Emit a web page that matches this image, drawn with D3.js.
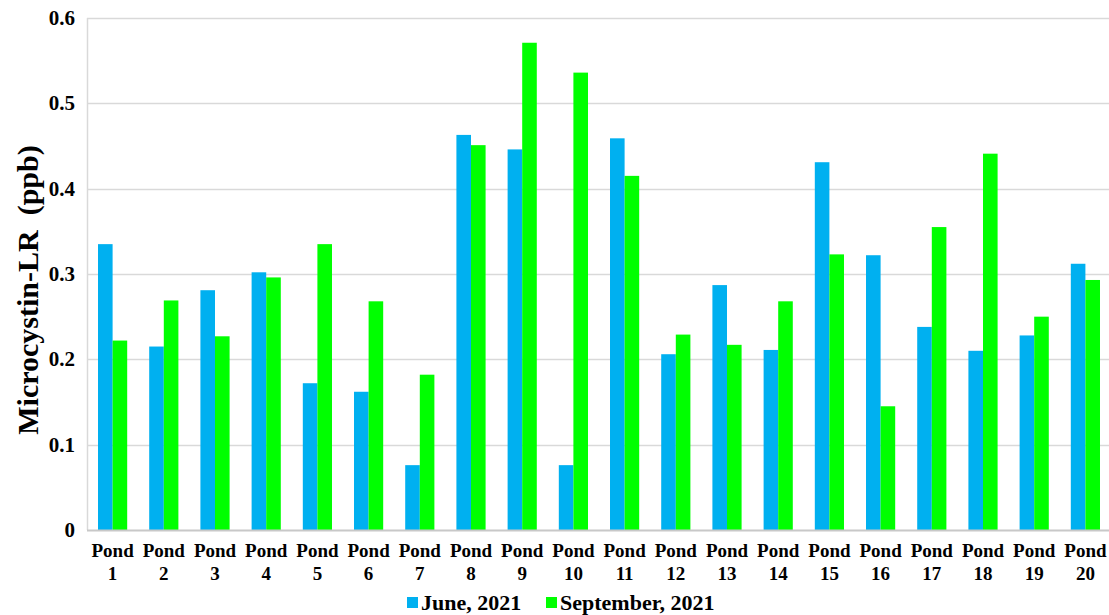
<!DOCTYPE html>
<html>
<head>
<meta charset="utf-8">
<script src="https://cdn.jsdelivr.net/npm/d3@7"></script>
<style>
  body { margin: 0; background: #fff; }
  text { font-family: "Liberation Serif", "Times New Roman", serif; font-weight: bold; fill: #000; }
</style>
</head>
<body>
<script>
// data
var ponds = ["1","2","3","4","5","6","7","8","9","10","11","12","13","14","15","16","17","18","19","20"];
var june = [0.335,0.215,0.281,0.302,0.172,0.162,0.076,0.463,0.446,0.076,0.459,0.206,0.287,0.211,0.431,0.322,0.238,0.210,0.228,0.312];
var september = [0.222,0.269,0.227,0.296,0.335,0.268,0.182,0.451,0.571,0.536,0.415,0.229,0.217,0.268,0.323,0.145,0.355,0.441,0.250,0.293];
var seriesNames = ["June, 2021", "September, 2021"];
var seriesColours = ["#00B0F0", "#00FF00"];
var yTicks = [0, 0.1, 0.2, 0.3, 0.4, 0.5, 0.6];

var width = 1109, height = 615;
var margin = {top: 18, left: 87, bottom: 85};

var svg = d3.select("body").append("svg")
	.attr("width", width)
	.attr("height", height);

var x0 = d3.scaleBand()
	.domain(ponds)
	.range([margin.left, margin.left + 1024])
	.paddingInner(0.43)
	.paddingOuter(0.215);

var x1 = d3.scaleBand()
	.domain(seriesNames)
	.range([0, x0.bandwidth()]);

var y = d3.scaleLinear()
	.domain([0, 0.6])
	.range([height - margin.bottom, margin.top]);

// gridlines
svg.append("g")
	.selectAll("line")
	.data(yTicks.slice(1))
	.enter().append("line")
	.attr("x1", margin.left)
	.attr("x2", width)
	.attr("y1", function(d) { return Math.round(y(d)) + 0.5; })
	.attr("y2", function(d) { return Math.round(y(d)) + 0.5; })
	.attr("stroke", "#d9d9d9")
	.attr("stroke-width", 1.5);

// left axis line
svg.append("line")
	.attr("x1", margin.left + 0.5).attr("x2", margin.left + 0.5)
	.attr("y1", y(0.6)).attr("y2", y(0))
	.attr("stroke", "#d9d9d9")
	.attr("stroke-width", 1.5);

// bars
var rows = ponds.map(function(p, i) {
	return {pond: p, vals: [june[i], september[i]]};
});

var groups = svg.append("g")
	.selectAll("g")
	.data(rows)
	.enter().append("g")
	.attr("transform", function(d) { return "translate(" + x0(d.pond) + ",0)"; });

groups.selectAll("rect")
	.data(function(d) { return d.vals.map(function(v, k) { return {name: seriesNames[k], value: v, k: k}; }); })
	.enter().append("rect")
	.attr("x", function(d) { return x1(d.name); })
	.attr("width", x1.bandwidth())
	.attr("y", function(d) { return y(d.value); })
	.attr("height", function(d) { return y(0) - y(d.value); })
	.attr("fill", function(d) { return seriesColours[d.k]; });

// bottom axis line
svg.append("line")
	.attr("x1", margin.left).attr("x2", width)
	.attr("y1", y(0) + 0.5).attr("y2", y(0) + 0.5)
	.attr("stroke", "#c8c8c8")
	.attr("stroke-width", 2);

// y tick labels
svg.append("g")
	.selectAll("text")
	.data(yTicks)
	.enter().append("text")
	.attr("x", 75)
	.attr("y", function(d) { return y(d) + 7; })
	.attr("text-anchor", "end")
	.style("font-size", "21px")
	.text(function(d) { return d === 0 ? "0" : d.toFixed(1); });

// x labels, two lines
var xl = svg.append("g")
	.selectAll("text")
	.data(ponds)
	.enter().append("text")
	.attr("text-anchor", "middle")
	.style("font-size", "19px")
	.attr("transform", function(d) { return "translate(" + (x0(d) + x0.bandwidth() / 2) + ",0)"; });
xl.append("tspan").attr("x", 0).attr("y", 557).text("Pond");
xl.append("tspan").attr("x", 0).attr("y", 580).text(function(d) { return d; });

// y axis title
svg.append("text")
	.attr("transform", "translate(38," + 290 + ") rotate(-90)")
	.attr("text-anchor", "middle")
	.style("font-size", "30px")
	.style("white-space", "pre")
	.attr("xml:space", "preserve")
	.text("Microcystin-LR  (ppb)");

// legend
var legendX = [407, 546];
var legend = svg.append("g")
	.selectAll("g")
	.data(seriesNames)
	.enter().append("g")
	.attr("transform", function(d, i) { return "translate(" + legendX[i] + ",597)"; });
legend.append("rect")
	.attr("width", 11).attr("height", 11)
	.attr("fill", function(d, i) { return seriesColours[i]; });
legend.append("text")
	.attr("x", 14)
	.attr("y", 13)
	.style("font-size", "22px")
	.text(function(d) { return d; });
</script>
</body>
</html>
